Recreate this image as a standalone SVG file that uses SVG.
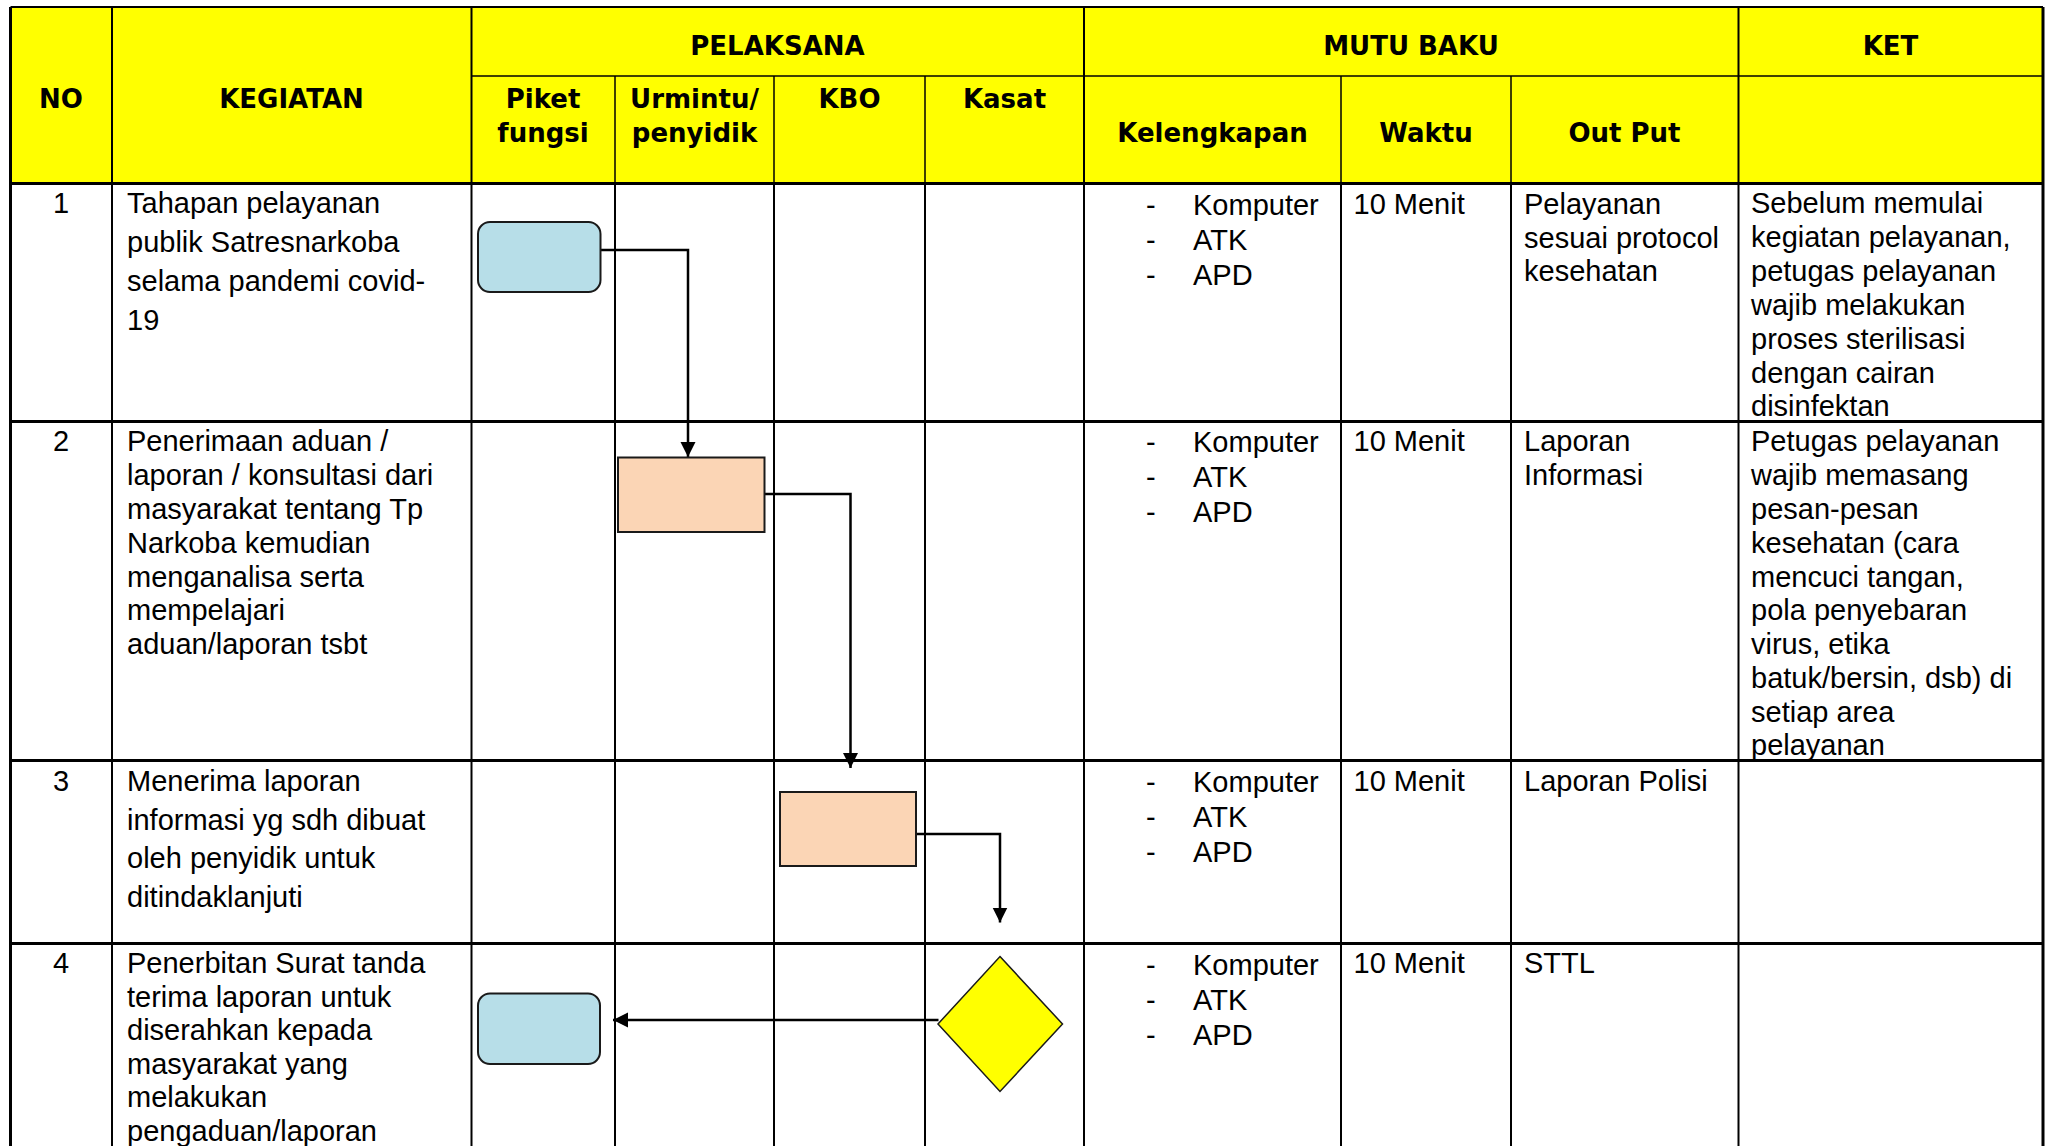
<svg xmlns="http://www.w3.org/2000/svg" width="2049" height="1146" viewBox="0 0 2049 1146">
<style>
.hdr{font-family:"DejaVu Sans",Verdana,sans-serif;font-weight:bold;font-size:26px;text-anchor:middle;fill:#000}
.txt{font-family:"Liberation Sans",Arial,sans-serif;font-size:29px;fill:#000}
.num{text-anchor:middle}
.ln{stroke:#000;stroke-width:2;fill:none}
.lnh{stroke:#000;stroke-width:1.5;fill:none}
.lnt{stroke:#000;stroke-width:3;fill:none}
.blue{fill:#B7DEE8;stroke:#1a1a1a;stroke-width:2}
.peach{fill:#FBD5B5;stroke:#1a1a1a;stroke-width:2}
.dia{fill:#FFFF00;stroke:#1a1a1a;stroke-width:1.5}
.conn{stroke:#000;stroke-width:2.5;fill:none;marker-end:url(#arr)}
</style>
<defs>
<marker id="arr" markerUnits="userSpaceOnUse" markerWidth="16" markerHeight="16" refX="15" refY="7.5" orient="auto">
<path d="M0,0 L15,7.5 L0,15 z" fill="#000"/>
</marker>
</defs>
<rect width="2049" height="1146" fill="#fff"/>
<g id="table">
<rect x="10.5" y="7" width="2032.5" height="176.5" fill="#FFFF00"/>
<line class="lnh" x1="471.5" y1="76" x2="2043" y2="76"/>
<line class="lnh" x1="615" y1="76" x2="615" y2="183"/>
<line class="lnh" x1="774" y1="76" x2="774" y2="183"/>
<line class="lnh" x1="925" y1="76" x2="925" y2="183"/>
<line class="lnh" x1="1341" y1="76" x2="1341" y2="183"/>
<line class="lnh" x1="1511" y1="76" x2="1511" y2="183"/>
<line class="ln" x1="615" y1="183" x2="615" y2="1146"/>
<line class="ln" x1="774" y1="183" x2="774" y2="1146"/>
<line class="ln" x1="925" y1="183" x2="925" y2="1146"/>
<line class="ln" x1="1341" y1="183" x2="1341" y2="1146"/>
<line class="ln" x1="1511" y1="183" x2="1511" y2="1146"/>
<line class="ln" x1="112" y1="7" x2="112" y2="1146"/>
<line class="ln" x1="471.5" y1="7" x2="471.5" y2="1146"/>
<line class="ln" x1="1084" y1="7" x2="1084" y2="1146"/>
<line class="ln" x1="1738.5" y1="7" x2="1738.5" y2="1146"/>
<line class="lnt" x1="10.5" y1="7" x2="10.5" y2="1146"/>
<line class="lnt" x1="2043" y1="7" x2="2043" y2="1146"/>
<line class="ln" x1="10.5" y1="7" x2="2043" y2="7"/>
<line class="lnt" x1="10.5" y1="183.5" x2="2043" y2="183.5"/>
<line class="lnt" x1="10.5" y1="421.5" x2="2043" y2="421.5"/>
<line class="lnt" x1="10.5" y1="760.5" x2="2043" y2="760.5"/>
<line class="lnt" x1="10.5" y1="943.5" x2="2043" y2="943.5"/>
</g>
<g id="header">
<text class="hdr" x="61" y="108">NO</text>
<text class="hdr" x="291.5" y="108">KEGIATAN</text>
<text class="hdr" x="777.5" y="55">PELAKSANA</text>
<text class="hdr" x="1411" y="55">MUTU BAKU</text>
<text class="hdr" x="1890.5" y="55">KET</text>
<text class="hdr" x="543" y="108">Piket</text>
<text class="hdr" x="543" y="142">fungsi</text>
<text class="hdr" x="694.5" y="108">Urmintu/</text>
<text class="hdr" x="694.5" y="142">penyidik</text>
<text class="hdr" x="849.5" y="108">KBO</text>
<text class="hdr" x="1004.5" y="108">Kasat</text>
<text class="hdr" x="1212.5" y="142">Kelengkapan</text>
<text class="hdr" x="1426" y="142">Waktu</text>
<text class="hdr" x="1624.5" y="142">Out Put</text>
</g>
<g id="row1">
<text class="txt num" x="61" y="212.5">1</text>
<text class="txt" x="127"><tspan x="127" y="212.5">Tahapan pelayanan</tspan><tspan x="127" y="251.5">publik Satresnarkoba</tspan><tspan x="127" y="290.5">selama pandemi covid-</tspan><tspan x="127" y="329.5">19</tspan></text>
<text class="txt"><tspan x="1146" y="215">-</tspan><tspan x="1146" y="250">-</tspan><tspan x="1146" y="285">-</tspan></text>
<text class="txt"><tspan x="1193" y="215">Komputer</tspan><tspan x="1193" y="250">ATK</tspan><tspan x="1193" y="285">APD</tspan></text>
<text class="txt" x="1353.5" y="214">10 Menit</text>
<text class="txt"><tspan x="1524" y="214">Pelayanan</tspan><tspan x="1524" y="247.5">sesuai protocol</tspan><tspan x="1524" y="281">kesehatan</tspan></text>
<text class="txt"><tspan x="1751" y="213">Sebelum memulai</tspan><tspan x="1751" y="247">kegiatan pelayanan,</tspan><tspan x="1751" y="281">petugas pelayanan</tspan><tspan x="1751" y="315">wajib melakukan</tspan><tspan x="1751" y="349">proses sterilisasi</tspan><tspan x="1751" y="382.5">dengan cairan</tspan><tspan x="1751" y="416">disinfektan</tspan></text>
</g>
<g id="row2">
<text class="txt num" x="61" y="451">2</text>
<text class="txt"><tspan x="127" y="451">Penerimaan aduan /</tspan><tspan x="127" y="485">laporan / konsultasi dari</tspan><tspan x="127" y="519">masyarakat tentang Tp</tspan><tspan x="127" y="553">Narkoba kemudian</tspan><tspan x="127" y="587">menganalisa serta</tspan><tspan x="127" y="620">mempelajari</tspan><tspan x="127" y="654">aduan/laporan tsbt</tspan></text>
<text class="txt"><tspan x="1146" y="452">-</tspan><tspan x="1146" y="487">-</tspan><tspan x="1146" y="522">-</tspan></text>
<text class="txt"><tspan x="1193" y="452">Komputer</tspan><tspan x="1193" y="487">ATK</tspan><tspan x="1193" y="522">APD</tspan></text>
<text class="txt" x="1353.5" y="451">10 Menit</text>
<text class="txt"><tspan x="1524" y="451">Laporan</tspan><tspan x="1524" y="485">Informasi</tspan></text>
<text class="txt"><tspan x="1751" y="451">Petugas pelayanan</tspan><tspan x="1751" y="485">wajib memasang</tspan><tspan x="1751" y="519">pesan-pesan</tspan><tspan x="1751" y="553">kesehatan (cara</tspan><tspan x="1751" y="586.5">mencuci tangan,</tspan><tspan x="1751" y="620">pola penyebaran</tspan><tspan x="1751" y="654">virus, etika</tspan><tspan x="1751" y="688">batuk/bersin, dsb) di</tspan><tspan x="1751" y="721.5">setiap area</tspan><tspan x="1751" y="755">pelayanan</tspan></text>
</g>
<g id="row3">
<text class="txt num" x="61" y="790.5">3</text>
<text class="txt"><tspan x="127" y="790.5">Menerima laporan</tspan><tspan x="127" y="829.5">informasi yg sdh dibuat</tspan><tspan x="127" y="868">oleh penyidik untuk</tspan><tspan x="127" y="907">ditindaklanjuti</tspan></text>
<text class="txt"><tspan x="1146" y="791.5">-</tspan><tspan x="1146" y="827">-</tspan><tspan x="1146" y="862">-</tspan></text>
<text class="txt"><tspan x="1193" y="791.5">Komputer</tspan><tspan x="1193" y="827">ATK</tspan><tspan x="1193" y="862">APD</tspan></text>
<text class="txt" x="1353.5" y="790.5">10 Menit</text>
<text class="txt" x="1524" y="790.5">Laporan Polisi</text>
</g>
<g id="row4">
<text class="txt num" x="61" y="973">4</text>
<text class="txt"><tspan x="127" y="973">Penerbitan Surat tanda</tspan><tspan x="127" y="1006.5">terima laporan untuk</tspan><tspan x="127" y="1040">diserahkan kepada</tspan><tspan x="127" y="1073.5">masyarakat yang</tspan><tspan x="127" y="1107">melakukan</tspan><tspan x="127" y="1140.5">pengaduan/laporan</tspan></text>
<text class="txt"><tspan x="1146" y="974.5">-</tspan><tspan x="1146" y="1010">-</tspan><tspan x="1146" y="1045">-</tspan></text>
<text class="txt"><tspan x="1193" y="974.5">Komputer</tspan><tspan x="1193" y="1010">ATK</tspan><tspan x="1193" y="1045">APD</tspan></text>
<text class="txt" x="1353.5" y="973">10 Menit</text>
<text class="txt" x="1524" y="973">STTL</text>
</g>
<g id="connectors">
<path class="conn" d="M600.5,250 H688 V457"/>
<path class="conn" d="M764.5,494 H850.5 V768"/>
<path class="conn" d="M916,834 H1000 V922.5"/>
<path class="conn" d="M938.5,1020 H613"/>
</g>
<g id="node-start1"><rect class="blue" x="478" y="222" width="122.5" height="70" rx="12"/></g>
<g id="node-proc2"><rect class="peach" x="618" y="457.5" width="146.5" height="74.5"/></g>
<g id="node-proc3"><rect class="peach" x="780" y="792" width="136" height="74"/></g>
<g id="node-decision4"><polygon class="dia" points="1000,956.5 1062.5,1024 1000,1091.5 938,1024"/></g>
<g id="node-end4"><rect class="blue" x="478" y="993.5" width="122" height="70.5" rx="12"/></g>
</svg>
